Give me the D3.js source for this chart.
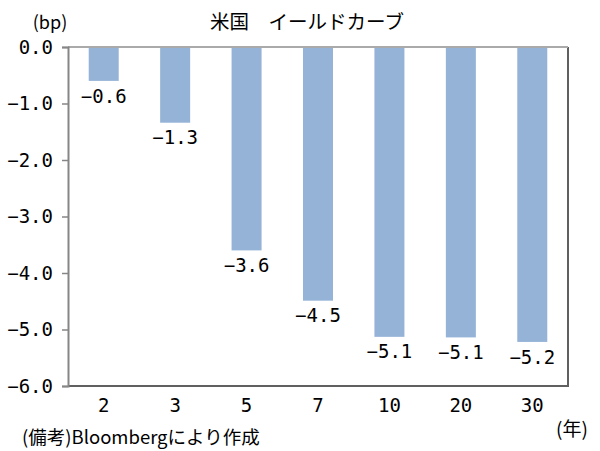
<!DOCTYPE html>
<html>
<head>
<meta charset="utf-8">
<script src="https://cdn.jsdelivr.net/npm/d3@7"></script>
<style>
	body{margin:0;background:#fff;}
	text{font-family:"Noto Sans CJK JP",sans-serif;fill:#000;}
	.num{font-family:"DejaVu Sans Mono","Liberation Mono",monospace;}
</style>
</head>
<body>
<div id="chart_div"></div>
<script>

////////////////////////////////////////
////////////////////////////////////////
////////////////////////////////////////

var maturities = ['2','3','5','7','10','20','30'];
var spreadChange = [-0.60,-1.34,-3.60,-4.49,-5.13,-5.14,-5.22];
var yTicks = [0,-1,-2,-3,-4,-5,-6];

var chart_title = '米国　イールドカーブ';
var chart_unit = '(bp)';
var chart_xunit = '(年)';
var chart_note = '(備考)Bloombergにより作成';

var chart_w = 600;
var chart_h = 451;
var plot_left = 68;
var plot_right = 568;
var plot_top = 47;
var plot_bottom = 386;

var barColor = '#95b3d7';
var axisColor = '#868686';
var frameColor = '#606060';

var svg = d3.select('#chart_div').append('svg')
	.attr('width',chart_w)
	.attr('height',chart_h);

var x = d3.scaleBand()
	.domain(maturities)
	.range([plot_left,plot_right])
	.paddingInner(0.58)
	.paddingOuter(0.29);

var y = d3.scaleLinear()
	.domain([0,-6])
	.range([plot_top,plot_bottom]);

var fmt = d3.format('.1f');

////////////////////////////////////////
////////////////////////////////////////
////////////////////////////////////////

// bars
svg.selectAll('rect.bar')
	.data(maturities)
	.enter()
	.append('rect')
	.attr('class','bar')
	.attr('fill',barColor)
	.attr('x',function(d){ return x(d); })
	.attr('width',x.bandwidth())
	.attr('y',y(0))
	.attr('height',function(d,i){ return y(spreadChange[i])-y(0); });

// plot frame (right + bottom darker)
svg.append('path')
	.attr('d','M'+plot_left+','+plot_bottom+'H'+plot_right+'V'+plot_top)
	.attr('fill','none')
	.attr('stroke',frameColor)
	.attr('stroke-width',2);

// zero line on top
svg.append('line')
	.attr('x1',plot_left)
	.attr('x2',plot_right)
	.attr('y1',y(0))
	.attr('y2',y(0))
	.attr('stroke','#aaaaaa')
	.attr('stroke-width',2);

// y axis
var yAxis = svg.append('g')
	.attr('transform','translate('+plot_left+',0)')
	.call(d3.axisLeft(y)
		.tickValues(yTicks)
		.tickSize(6)
		.tickPadding(9)
		.tickFormat(fmt));

yAxis.select('.domain')
	.attr('stroke',axisColor)
	.attr('stroke-width',2);
yAxis.selectAll('.tick line')
	.attr('stroke',axisColor)
	.attr('stroke-width',1.5);
yAxis.selectAll('.tick text')
	.attr('class','num')
	.attr('font-size',19)
	.attr('fill','#000');

// category labels under the frame
svg.append('g')
	.attr('transform','translate(0,'+plot_bottom+')')
	.call(d3.axisBottom(x).tickSize(0).tickPadding(13))
	.call(function(g){
		g.select('.domain').remove();
		g.selectAll('.tick text')
			.attr('class','num')
			.attr('font-size',19)
			.attr('fill','#000');
	});

// value labels
svg.selectAll('text.val')
	.data(maturities)
	.enter()
	.append('text')
	.attr('class','val num')
	.attr('x',function(d){ return x(d)+x.bandwidth()/2; })
	.attr('y',function(d,i){ return y(spreadChange[i])+15; })
	.attr('dy','0.35em')
	.attr('text-anchor','middle')
	.attr('font-size',19)
	.text(function(d,i){ return fmt(spreadChange[i]); });

////////////////////////////////////////
////////////////////////////////////////
////////////////////////////////////////

svg.append('text')
	.attr('x',307)
	.attr('y',22)
	.attr('dy','0.35em')
	.attr('text-anchor','middle')
	.attr('font-size',19.5)
	.text(chart_title);

svg.append('text')
	.attr('x',50)
	.attr('y',23)
	.attr('dy','0.35em')
	.attr('text-anchor','middle')
	.attr('font-size',18)
	.text(chart_unit);

svg.append('text')
	.attr('x',572)
	.attr('y',429)
	.attr('dy','0.35em')
	.attr('text-anchor','middle')
	.attr('font-size',19)
	.text(chart_xunit);

svg.append('text')
	.attr('x',22)
	.attr('y',438)
	.attr('dy','0.35em')
	.attr('font-size',18.5)
	.text(chart_note);

</script>
</body>
</html>
